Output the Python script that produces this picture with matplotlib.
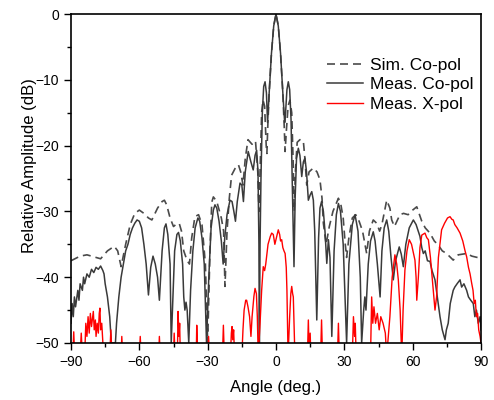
import matplotlib
matplotlib.use("Agg")
from matplotlib import pyplot as plt
from matplotlib.ticker import MultipleLocator

plt.rcParams['font.family'] = ['Liberation Sans', 'DejaVu Sans']

# Sim. Co-pol (angle deg, dB)
sim_ang = [-90, -86, -83, -80, -77, -74, -71, -69.5, -68, -66, -64, -62, -60, -58, -56,
           -54.5, -52, -50, -49, -48, -46.5, -45, -44, -42.5, -41.5, -40.5, -39, -38, -37,
           -35.6, -34, -32.5, -31, -30, -29, -28.2, -27.5, -26, -24, -23, -22.4, -21.5,
           -20.5, -19.5, -18, -16.5, -15.5, -14.5, -13.5, -12.3, -10.5, -9, -8, -7.5, -7,
           -6.3, -5.7, -5, -4.3, -4, -3.6, -3, -2, -1, 0, 1, 2, 3, 3.6, 4, 4.5, 5.3, 6.1,
           6.9, 7.5, 8, 8.5, 9.3, 10.5, 12, 12.7, 13.5, 14.5, 16.4, 18, 19.3, 20.2, 20.8,
           22, 23.4, 25, 27.4, 28.5, 29.5, 30.3, 31, 32, 33.5, 35, 36.5, 38, 39.8, 41, 42.7,
           44.2, 45.5, 46.5, 48.6, 50, 50.8, 52, 54.4, 56, 58, 60, 61.8, 63, 64, 65.5, 67.6,
           69.5, 71.2, 73, 74.9, 77.8, 80, 83.7, 86, 89.6, 90]
sim_db = [-37.5, -36.8, -36.6, -36.9, -37.2, -36, -35.3, -36, -38.4, -35, -32, -30.3, -29.8,
          -30.3, -31, -31.3, -29.5, -28.5, -28.3, -29, -31, -32.3, -32, -31.8, -33, -36,
          -37.5, -38, -34, -30.8, -30.5, -32, -38, -50, -36, -28.6, -27.8, -28.5, -31, -33,
          -41.4, -33, -28, -24.5, -23.5, -22.9, -24, -26, -22, -19.1, -19.8, -19.3, -24, -30,
          -24, -15, -13.1, -14, -20, -21.2, -17, -12, -6, -1.8, 0, -1.8, -6, -12, -17, -20.9,
          -18, -14, -13.1, -15, -22, -30, -24, -19.5, -19.1, -19.3, -22, -26, -24, -23.4,
          -24, -25.2, -28, -31.8, -35, -32.3, -30, -28, -29, -31, -34.6, -37, -34, -31,
          -30.5, -31.5, -33, -36.4, -33, -31.3, -31.8, -33, -32, -28.3, -29.5, -31.3, -32.3,
          -30.5, -30.3, -30.5, -29.8, -29.3, -30.5, -31.5, -32.5, -33.3, -34.5, -35.1, -36,
          -36.4, -37.4, -36.6, -36.4, -36.8, -37.1, -37.2]

# Meas. Co-pol
meas_ang = [-90, -89.5, -89, -88.5, -88, -87, -86.5, -86, -85, -84.5, -84, -83, -82, -81,
            -80, -79, -78, -77, -76, -75.5, -75, -74, -73, -72.3, -70.5, -70, -69, -68, -67,
            -66, -65, -64, -63, -62, -61, -60, -59, -58, -57, -56, -55, -54, -53, -52, -51.2,
            -50, -49, -48.3, -47.5, -46.5, -46, -44.5, -43.5, -42.8, -42, -41, -40.5, -40,
            -39.5, -39, -38.3, -37.5, -36.5, -35.5, -34.3, -33.5, -32.5, -31.5, -30.5, -29.5,
            -28.5, -27.5, -26.8, -26, -25, -24, -23.2, -22.5, -21.5, -20.2, -19.3, -18.5,
            -17.8, -17, -15.8, -15, -14.3, -13.5, -12.2, -11, -10, -9.2, -8.5, -7.9, -7.5,
            -7.3, -7, -6.6, -6, -5.4, -4.8, -4.2, -3.7, -3, -2, -1, 0, 1, 2, 3, 3.8, 4.2, 4.8,
            5.4, 6, 6.6, 7.1, 7.9, 8.4, 9, 9.8, 10.5, 11.3, 12, 12.7, 13.4, 14.2, 15, 15.7,
            16.4, 17, 17.9, 18.7, 19.3, 20, 20.8, 21.5, 22.3, 23, 23.7, 24.5, 25.5, 26.5,
            27.4, 28.3, 29.5, 31, 32, 33.5, 34.7, 36, 37, 37.6, 38.5, 39, 39.5, 40.5, 41.5,
            42.7, 43.5, 44.5, 45.7, 46.5, 47.5, 48.6, 49.5, 50.5, 51.5, 52.5, 54.1, 55, 55.9,
            57, 58.5, 60.3, 61.5, 63.2, 64, 64.7, 65.5, 66.5, 67.6, 68.5, 69.8, 70.8, 72, 73,
            74.2, 74.8, 75.6, 76.5, 77.8, 78.5, 79.5, 80.8, 81.5, 82.5, 83.7, 84.5, 85.5,
            86.6, 87.3, 88, 88.8, 89.6, 90]
meas_db = [-47, -44, -46, -43, -44.5, -42, -43.5, -41, -42, -40, -41, -39.5, -40, -38.8,
           -39.3, -38.5, -38.8, -38.3, -39, -39.5, -41, -43, -46, -50, -50, -47, -43, -40,
           -38, -36, -35, -33.5, -32.5, -31.8, -31.3, -31.5, -32.5, -35, -38, -42.7, -38.5,
           -36.8, -38, -40, -43.5, -36, -32.5, -31.9, -33.5, -38, -50, -36, -33.5, -33.2,
           -34.5, -38, -43, -45, -43.8, -45, -50, -42, -36, -32.5, -31, -31.5, -34, -38, -50,
           -40, -32.5, -29.8, -29, -29.5, -31.5, -34.5, -38, -34, -30.5, -28.3, -28.5, -30,
           -31.5, -28.5, -25.7, -26, -28.5, -24, -20.9, -22.5, -23.7, -21.5, -20.7, -24, -35,
           -50, -35, -25, -15, -11, -10.3, -12, -16.5, -12, -6, -1.8, 0, -1.8, -6, -12, -16.5,
           -15, -11.5, -10.3, -11.5, -16, -25, -38.4, -28, -22, -20.4, -21.5, -24.7, -22.5,
           -21.9, -24, -28.3, -27.5, -27, -28.3, -33, -46.5, -34, -29.5, -28.5, -30, -33,
           -37.9, -34.3, -37, -49, -36, -30.5, -28.8, -30, -35, -50, -38, -32, -30.5, -33,
           -40, -50, -45, -43, -45, -38, -34.5, -33.1, -34.5, -38, -43, -36, -32.5, -31.3,
           -33, -37, -40.4, -37.5, -35.4, -36.5, -38.4, -35, -32.5, -31.3, -32, -33.8, -35.5,
           -36.4, -36, -37.5, -37.6, -39, -40.4, -43, -46, -48, -49.5, -48, -47, -44, -42,
           -41.5, -41, -40.4, -41.5, -41, -42, -43, -43.5, -44, -46, -45, -47, -46, -48]

# Meas. X-pol
xpol_ang = [-90, -89.2, -88.8, -88.4, -86, -85.5, -85, -84, -83.5, -83, -82.5, -82, -81.5,
            -81, -80.5, -80.2, -79.8, -79.3, -79, -78.5, -78, -77.6, -77.3, -77, -76.5, -76,
            -75.5, -73, -72.5, -72, -68, -67.7, -67.3, -60, -59.6, -59.2, -51.5, -51.2, -50.8,
            -45, -44.7, -44.3, -43.3, -43, -42.6, -42.3, -42, -35, -34.8, -34.4, -30, -29.6,
            -29.2, -23.5, -23.1, -22.7, -20, -19.6, -19.3, -19, -18.6, -18.2, -15, -14.5,
            -14, -13.3, -12.9, -12.3, -11.6, -11, -10.5, -9.7, -9.2, -8.6, -8.2, -7.8, -7,
            -6.3, -5.6, -5, -4.5, -3.5, -2.5, -1.9, -1.2, -0.5, 0.2, 1, 1.6, 2, 2.5, 3, 3.5,
            4, 4.5, 4.8, 5.3, 6, 6.5, 6.9, 7.3, 7.6, 8.3, 13.8, 14.2, 14.6, 15, 15.3, 19.6,
            20, 20.4, 27, 27.4, 27.8, 33.5, 34, 34.5, 34.8, 35.2, 41.5, 42, 42.5, 43, 43.7,
            44.5, 45.3, 46, 47, 48, 48.6, 50, 51, 52.2, 53, 53.7, 54.5, 55.2, 55.8, 56.6,
            57.5, 58.5, 59.5, 61, 61.5, 61.8, 62.5, 63.2, 64, 65.4, 66.2, 66.9, 67.8, 68.8,
            69.8, 70.5, 71.3, 72.7, 74, 75.3, 76.4, 77.2, 77.8, 78.5, 79.5, 80.8, 82, 83,
            83.7, 84.5, 85.2, 85.9, 86.5, 87, 87.5, 88, 88.5, 89, 89.6, 90]
xpol_db = [-52, -52, -48.3, -52, -52, -48.5, -52, -52, -47, -49, -46, -48.5, -45.5, -47.5,
           -46, -45.2, -48, -46.5, -49, -47, -48.5, -45.5, -44.7, -48, -47, -50, -52, -52,
           -48, -52, -52, -49, -52, -52, -49, -52, -52, -49, -52, -52, -48.5, -52, -52, -45.2,
           -49, -47, -52, -52, -47.3, -52, -52, -49, -52, -52, -47.3, -52, -52, -48.5, -47.5,
           -49.5, -48, -52, -52, -48, -45, -43.5, -43.5, -44.5, -46, -49, -46, -42.9, -41.7,
           -42.5, -46, -52, -47, -42, -38.4, -39, -38, -35, -33.8, -33.3, -33.5, -35, -34,
           -32.8, -33.5, -34.5, -34.3, -35.5, -36, -36.4, -38.5, -42, -52, -46, -42.5, -41.4,
           -42.5, -43, -52, -52, -46.5, -52, -48.5, -52, -52, -46.5, -52, -52, -47, -52, -52,
           -46, -49, -47, -52, -52, -43, -47, -44.5, -47, -45.5, -48, -46, -47, -48.5, -52,
           -46, -40, -36.6, -38, -40.4, -45, -52, -45, -38.9, -36, -34.3, -35, -37.4, -40,
           -43.5, -40, -35.5, -33.6, -33.3, -34, -34.3, -37, -41, -45, -43, -37, -32.8, -31.8,
           -31, -30.8, -31.2, -31.3, -32, -32.5, -33.3, -34.5, -36, -36.9, -38.5, -39.5,
           -40.9, -42, -44, -43.5, -46, -45.5, -48, -49, -50]

fig = plt.figure(figsize=(4.94, 4.0), dpi=100)
ax = fig.add_axes([71 / 494, 1 - 343 / 400, 410 / 494, 329 / 400])

ax.plot(sim_ang, sim_db, color='#4a4a4a', lw=1.2, ls=(0, (4.8, 3)), label='Sim. Co-pol')
ax.plot(meas_ang, meas_db, color='#3a3a3a', lw=1.1, label='Meas. Co-pol')
ax.plot(xpol_ang, xpol_db, color='#ff0000', lw=1.0, label='Meas. X-pol')

ax.set_xlim(-90, 90)
ax.set_ylim(-50, 0)
ax.xaxis.set_major_locator(MultipleLocator(30))
ax.xaxis.set_minor_locator(MultipleLocator(15))
ax.yaxis.set_major_locator(MultipleLocator(10))
ax.yaxis.set_minor_locator(MultipleLocator(5))
ax.tick_params(which='both', direction='out', labelsize=10, width=1)
ax.tick_params(which='major', length=5)
ax.tick_params(which='minor', length=3)
for s in ax.spines.values():
    s.set_linewidth(1.2)

ax.set_xlabel('Angle (deg.)', fontsize=12, labelpad=8)
ax.set_ylabel('Relative Amplitude (dB)', fontsize=12)
ax.yaxis.set_label_coords(-0.083, 0.54)

ax.legend(loc='upper left', bbox_to_anchor=(0.624, 0.868), frameon=False, fontsize=12.5,
          handlelength=2.1, handletextpad=0.4, labelspacing=0.27,
          borderpad=0, borderaxespad=0)

fig.savefig('out.png', dpi=100)
